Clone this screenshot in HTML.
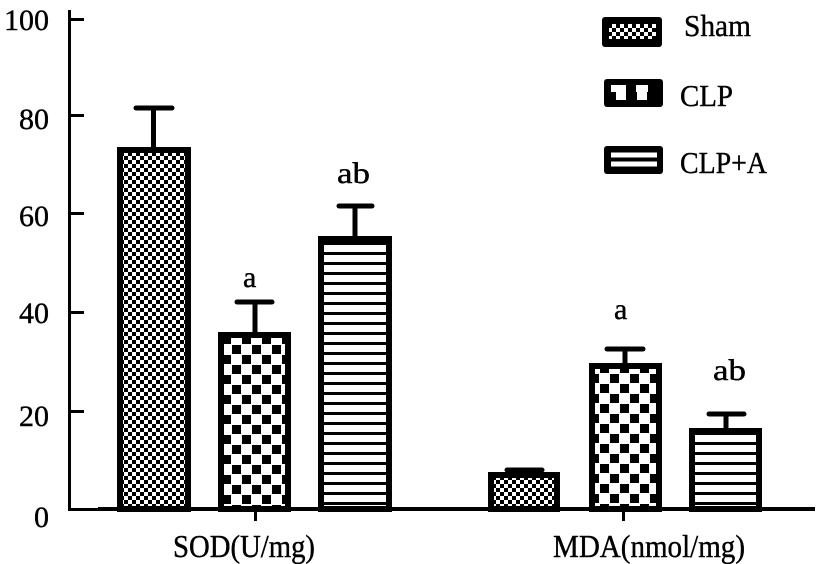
<!DOCTYPE html>
<html><head><meta charset="utf-8"><style>
html,body{margin:0;padding:0;background:#fff;}
svg{display:block;}
text{font-family:"Liberation Serif","Noto Serif CJK SC",serif;fill:#000;stroke:#000;stroke-width:0.4;}
</style></head><body>
<svg width="818" height="564" viewBox="0 0 818 564" xmlns="http://www.w3.org/2000/svg">
<defs>
<pattern id="fine" width="8" height="8" patternUnits="userSpaceOnUse">
<rect width="8" height="8" fill="#fff"/><rect width="4" height="4" fill="#000"/><rect x="4" y="4" width="4" height="4" fill="#000"/>
</pattern>
<pattern id="chk1" x="12" y="5" width="20" height="20" patternUnits="userSpaceOnUse">
<rect width="20" height="20" fill="#fff"/><rect x="0" y="0" width="9" height="9" fill="#000"/><rect x="10" y="10" width="9" height="9" fill="#000"/>
</pattern>
<pattern id="chk2" x="0" y="4" width="20" height="20" patternUnits="userSpaceOnUse">
<rect width="20" height="20" fill="#fff"/><rect x="0" y="0" width="9" height="9" fill="#000"/><rect x="10" y="10" width="9" height="9" fill="#000"/>
</pattern>
<pattern id="hl" width="10" height="10" patternUnits="userSpaceOnUse">
<rect width="10" height="10" fill="#fff"/><rect y="2" width="10" height="3" fill="#000"/>
</pattern>
</defs>

<!-- axes -->
<rect x="68" y="10" width="3" height="501" fill="#000"/>
<rect x="68" y="508" width="747" height="3" fill="#000"/>
<rect x="98" y="507" width="717" height="4" fill="#000"/>
<g fill="#000">
<rect x="70" y="18" width="14" height="3"/>
<rect x="70" y="114" width="14" height="3"/>
<rect x="70" y="212" width="14" height="3"/>
<rect x="70" y="311" width="14" height="3"/>
<rect x="70" y="410" width="14" height="3"/>
<rect x="254" y="510" width="3" height="11"/>
<rect x="622" y="510" width="3" height="11"/>
</g>
<g font-size="30" text-anchor="end">
<text x="49" y="30">100</text>
<text x="49" y="129">80</text>
<text x="49" y="226">60</text>
<text x="49" y="323">40</text>
<text x="49" y="426">20</text>
<text x="49" y="527">0</text>
</g>

<!-- bars -->
<g stroke="#000" stroke-width="6">
<rect x="120" y="150" width="68" height="359" fill="url(#fine)"/>
<rect x="221" y="335" width="67" height="174" fill="url(#chk1)"/>
<rect x="321" y="239" width="68" height="270" fill="url(#hl)"/>
<rect x="491" y="475" width="66" height="34" fill="url(#fine)"/>
<rect x="592" y="366" width="67" height="143" fill="url(#chk2)"/>
<rect x="692" y="431" width="67" height="78" fill="url(#hl)"/>
</g>

<!-- error bars -->
<g stroke="#000" stroke-width="5" stroke-linecap="round">
<line x1="153.5" y1="150" x2="153.5" y2="108"/><line x1="136" y1="108" x2="172" y2="108"/>
<line x1="255" y1="334" x2="255" y2="302"/><line x1="237" y1="302" x2="272" y2="302"/>
<line x1="355" y1="238" x2="355" y2="206"/><line x1="339" y1="206" x2="372" y2="206"/>
<line x1="507" y1="470" x2="542" y2="470"/>
<line x1="625" y1="365" x2="625" y2="349"/><line x1="607" y1="349" x2="643" y2="349"/>
<line x1="726" y1="430" x2="726" y2="414"/><line x1="709" y1="414" x2="744" y2="414"/>
</g>

<!-- annotations -->
<g font-size="30">
<text x="243" y="287">a</text>
<text x="337" y="183" textLength="33" lengthAdjust="spacingAndGlyphs">ab</text>
<text x="614" y="319">a</text>
<text x="713" y="380" textLength="33" lengthAdjust="spacingAndGlyphs">ab</text>
</g>

<!-- x labels -->
<g font-size="32">
<text x="173" y="557" textLength="142" lengthAdjust="spacingAndGlyphs">SOD(U/mg)</text>
<text x="553" y="557" textLength="192" lengthAdjust="spacingAndGlyphs">MDA(nmol/mg)</text>
</g>

<!-- legend -->
<rect x="602" y="17" width="60" height="30" rx="3" fill="#000"/>
<rect x="609" y="24" width="47" height="15" fill="url(#fine)"/>
<rect x="604" y="79" width="59" height="28" rx="3" fill="#000"/>
<rect x="611" y="85" width="46" height="7" fill="#fff"/>
<rect x="626" y="85" width="10" height="7" fill="#000"/>
<rect x="648" y="85" width="9" height="7" fill="#000"/>
<rect x="616" y="92" width="10" height="8" fill="#fff"/>
<rect x="637" y="92" width="10" height="8" fill="#fff"/>
<rect x="604" y="146" width="59" height="28" rx="3" fill="#000"/>
<rect x="611" y="152.5" width="46" height="5" fill="#fff"/>
<rect x="611" y="161.5" width="46" height="5" fill="#fff"/>
<g font-size="31">
<text x="684" y="36" textLength="67" lengthAdjust="spacingAndGlyphs">Sham</text>
<text x="680" y="106" textLength="53" lengthAdjust="spacingAndGlyphs">CLP</text>
<text x="680" y="173" textLength="87" lengthAdjust="spacingAndGlyphs">CLP+A</text>
</g>
</svg>
</body></html>
